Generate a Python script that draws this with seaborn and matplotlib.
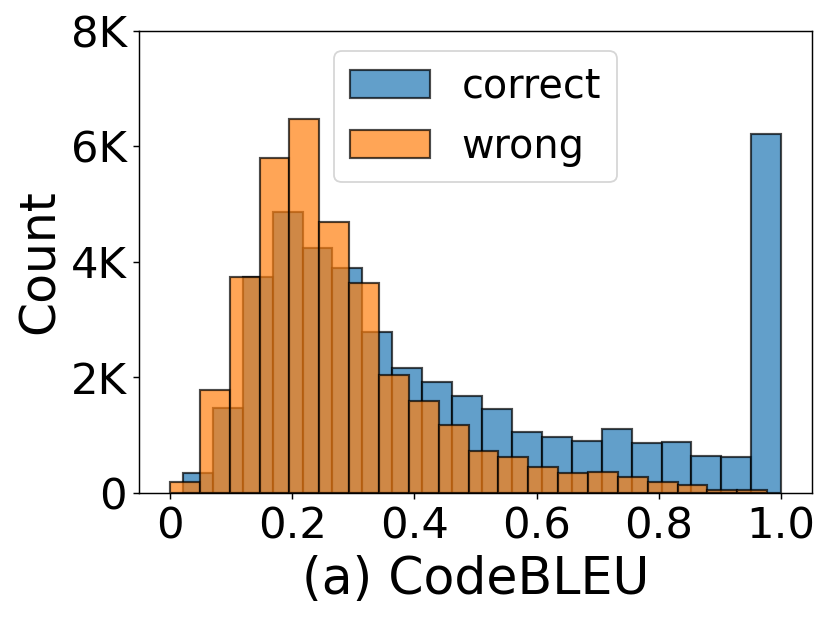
import matplotlib
matplotlib.use("Agg")
import matplotlib.pyplot as plt
import matplotlib.ticker as mticker
import numpy as np
import seaborn as sns

# bar heights (20 bins each)
correct_counts = [340, 1469, 3729, 4863, 4241, 3895, 2789, 2167, 1913, 1683,
                  1447, 1054, 968, 904, 1106, 870, 876, 634, 611, 6223]
wrong_counts = [178, 1775, 3734, 5796, 6470, 4684, 3636, 2040, 1590, 1170,
                726, 617, 449, 334, 357, 271, 178, 126, 47, 47]
correct_range = (0.021, 1.0)
wrong_range = (0.0, 0.977)
n_bins = 20

xticks = [0, 0.2, 0.4, 0.6, 0.8, 1.0]
xtick_labels = ["0", "0.2", "0.4", "0.6", "0.8", "1.0"]
yticks = [0, 2000, 4000, 6000, 8000]


def centers(rng):
    edges = np.linspace(rng[0], rng[1], n_bins + 1)
    return (edges[:-1] + edges[1:]) / 2


fig, ax = plt.subplots(figsize=(830 / 130, 619 / 130), dpi=130)
fig.subplots_adjust(left=0.168, right=0.978, bottom=0.204, top=0.95)

sns.histplot(x=centers(correct_range), weights=correct_counts, bins=n_bins,
             binrange=correct_range, color="C0", alpha=0.7,
             edgecolor=(0, 0, 0, 0.7), linewidth=1.2, label="correct", ax=ax)
sns.histplot(x=centers(wrong_range), weights=wrong_counts, bins=n_bins,
             binrange=wrong_range, color="C1", alpha=0.7,
             edgecolor=(0, 0, 0, 0.7), linewidth=1.2, label="wrong", ax=ax)

ax.set_ylim(0, 8000)
ax.set_xlim(-0.05, 1.05)
ax.set_yticks(yticks)
ax.yaxis.set_major_formatter(
    mticker.FuncFormatter(lambda v, p: "0" if v == 0 else f"{int(v / 1000)}K"))
ax.set_xticks(xticks)
ax.set_xticklabels(xtick_labels)
ax.tick_params(labelsize=24)
ax.set_xlabel("(a) CodeBLEU", fontsize=28)
ax.set_ylabel("Count", fontsize=27)
ax.legend(loc="upper center", fontsize=22)

fig.savefig("out.png", dpi=130)
